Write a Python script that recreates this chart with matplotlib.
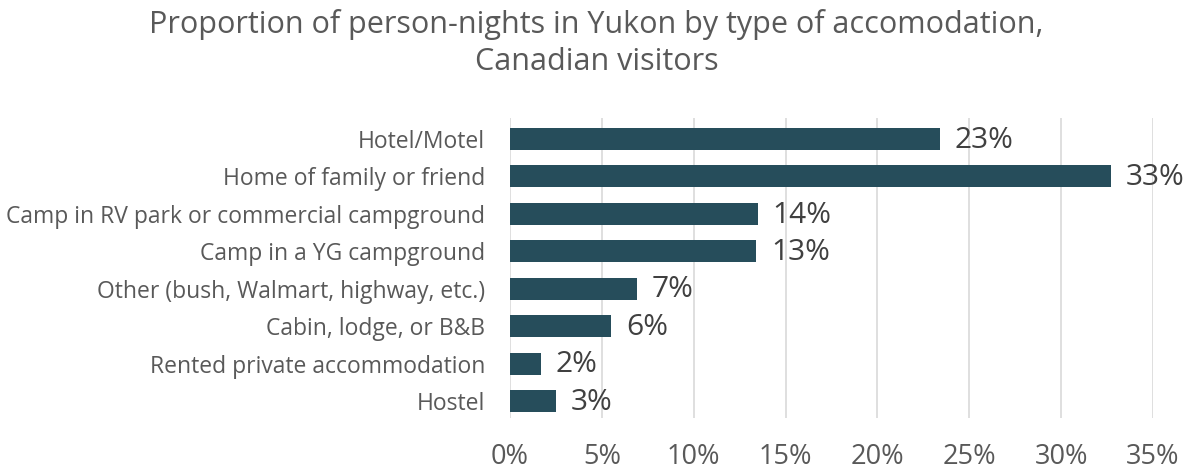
import matplotlib.pyplot as plt
import numpy as np

categories = ["Hotel/Motel", "Home of family or friend", "Camp in RV park or commercial campground",
              "Camp in a YG campground", "Other (bush, Walmart, highway, etc.)", "Cabin, lodge, or B&B",
              "Rented private accommodation", "Hostel"]
values = [23.4, 32.7, 13.5, 13.4, 6.9, 5.5, 1.7, 2.5]
labels = ["23%", "33%", "14%", "13%", "7%", "6%", "2%", "3%"]
xticks = [0, 5, 10, 15, 20, 25, 30, 35]

plt.rcParams['font.family'] = ['Open Sans', 'DejaVu Sans']
fig = plt.figure(figsize=(11.93, 4.72), dpi=100)
ax = fig.add_axes([0.4275, 0.1144, 0.9665 - 0.4275, 0.75 - 0.1144])
y = np.arange(len(categories))
ax.barh(y, values, height=0.59, color='#264d5b', zorder=3)
for yi, v, lab in zip(y, values, labels):
    ax.text(v + 0.8, yi + 0.03, lab, va='center', ha='left', fontsize=21.5, color='#404040')
ax.set_xlim(0, 35)
ax.set_ylim(7.45, -0.56)
ax.set_yticks(y)
ax.set_yticklabels(categories, fontsize=16.5, color='#595959')
ax.set_xticks(xticks)
ax.set_xticklabels([f"{t}%" for t in xticks], fontsize=19.5, color='#595959')
ax.tick_params(axis='both', length=0)
ax.tick_params(axis='x', pad=18)
ax.tick_params(axis='y', pad=18)
ax.grid(axis='x', color='#d9d9d9', linewidth=1.2, zorder=0)
for s in ax.spines.values():
    s.set_visible(False)
fig.text(0.5, 0.98, "Proportion of person-nights in Yukon by type of accomodation,\nCanadian visitors",
         ha='center', va='top', fontsize=22, color='#595959', linespacing=1.3)
fig.savefig('out.png', dpi=100)
